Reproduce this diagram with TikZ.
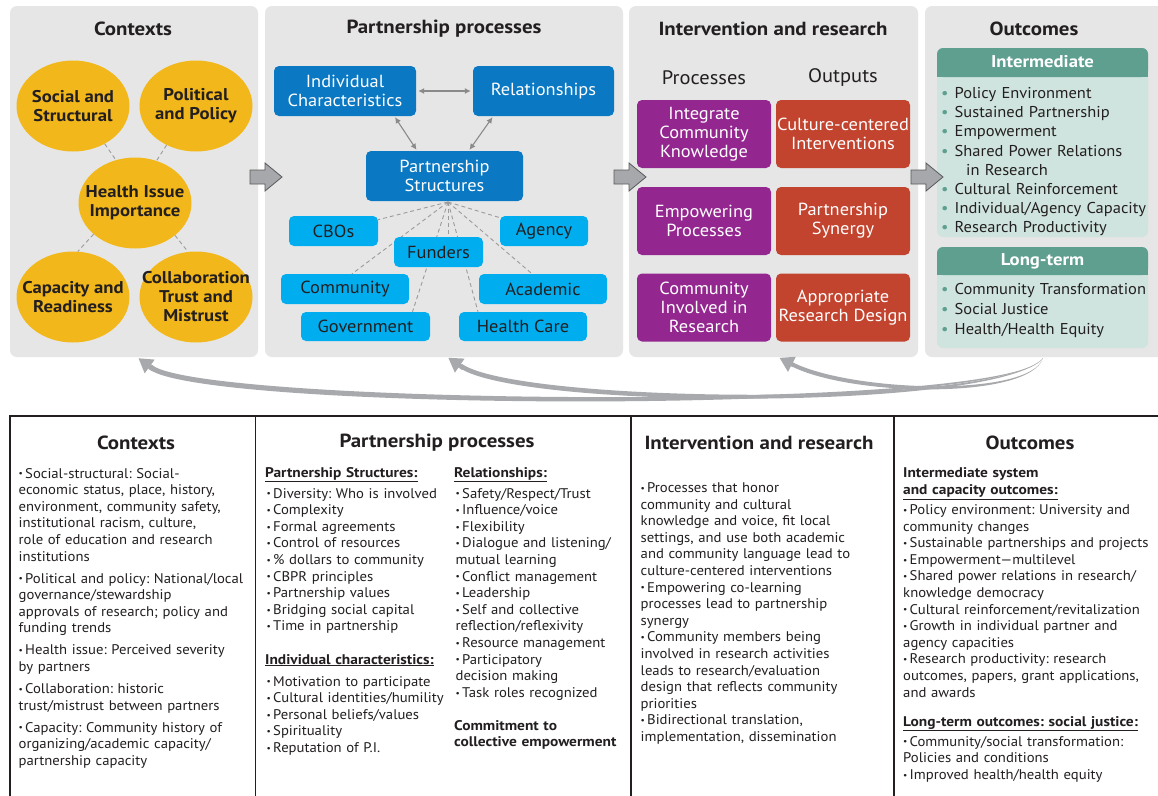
\documentclass[tikz,border=0pt]{standalone}
\usepackage{fontspec}
\setmainfont{PT Sans}[FakeStretch=1.05, BoldFeatures={FakeStretch=1.1}]
\usetikzlibrary{shapes.geometric,arrows.meta,calc}
\pgfdeclarelayer{back}
\pgfdeclarelayer{mid}
\pgfsetlayers{back,mid,main}
\definecolor{panelc}{HTML}{E6E6E6}
\definecolor{gold}{HTML}{F2B71A}
\definecolor{dblue}{HTML}{0A78C2}
\definecolor{lblue}{HTML}{00AEEF}
\definecolor{purp}{HTML}{93278F}
\definecolor{rust}{HTML}{C2432E}
\definecolor{tealh}{HTML}{5E9F90}
\definecolor{tealb}{HTML}{CFE4DE}
\definecolor{txt}{HTML}{231F20}
\definecolor{agrey}{HTML}{A6A8AB}
\definecolor{aline}{HTML}{58595B}
\definecolor{fbgrey}{HTML}{A7A9AC}
\definecolor{dashc}{HTML}{9B9B9B}
\definecolor{bidirc}{HTML}{8A8A8A}
\newcommand\bdot{\raisebox{1.2pt}{\fontsize{9}{9}\selectfont\textbullet}}
\newcommand\bitem[1]{\noindent\hangindent=6.5pt\hangafter=1\makebox[6.5pt][l]{\bdot}#1\par}
\newcommand\bgap{\vspace{5.4pt}}
\newcommand\obul{\makebox[13.5pt][l]{\textcolor{tealh}{\textbullet}}}
\tikzset{
  ptitle/.style={font=\fontsize{19}{22}\selectfont\bfseries, text=txt, inner sep=0},
  ell/.style={ellipse, fill=gold, minimum width=113, minimum height=91, inner sep=0},
  elltext/.style={align=center, text=txt, inner sep=0, font=\fontsize{17}{19}\selectfont\bfseries},
  dbox/.style={rectangle, rounded corners=5pt, fill=dblue, text=white, align=center, font=\fontsize{17.5}{19}\selectfont, inner sep=0, minimum height=50},
  lbox/.style={rectangle, rounded corners=5pt, fill=lblue, text=txt, align=center, font=\fontsize{17.5}{19}\selectfont, minimum height=30, inner sep=0},
  pbox/.style={rectangle, rounded corners=5pt, fill=purp, text=white, align=center, font=\fontsize{17.5}{19}\selectfont, minimum width=134, minimum height=68, inner sep=0},
  rbox/.style={pbox, fill=rust},
  dashln/.style={draw=dashc, dash pattern=on 4pt off 3pt, line width=0.9pt},
  bidir/.style={draw=bidirc, line width=1.1pt, {Latex[length=6pt,width=6pt]}-{Latex[length=6pt,width=6pt]}},
  blk/.style={fill=agrey, draw=aline, line width=0.8pt},
  fbody/.style={fill=fbgrey},
  fhead/.style={draw=fbgrey, line width=5pt, -{Triangle[length=14pt,width=16pt]}},
  subhead/.style={font=\fontsize{19.5}{22}\selectfont, text=txt, inner sep=0},
  ohead/.style={font=\fontsize{17}{20}\selectfont\bfseries, text=white, inner sep=0},
  olist/.style={font=\fontsize{15.7}{19.2}\selectfont, text=txt, inner sep=0, anchor=base west, text width=230},
  coltext/.style={font=\fontsize{14}{16.6}\selectfont\frenchspacing, text=txt, inner sep=0, anchor=base west, text width=330},
  colhead/.style={coltext, font=\fontsize{14}{16.6}\selectfont\bfseries\frenchspacing},
  blockarrow/.pic={\path[blk] (-16,-7) -- (-1,-7) -- (-1,-14) -- (16,0) -- (-1,14) -- (-1,7) -- (-16,7) -- cycle;}
}
\begin{document}
\begin{tikzpicture}[x=1pt,y=-1pt]
\useasboundingbox (0,0) rectangle (1158,795);
\begin{pgfonlayer}{back}
\fill[white] (0,0) rectangle (1158,795);
\fill[panelc, rounded corners=7pt] (10,6) rectangle (258,357);
\fill[panelc, rounded corners=7pt] (265,6) rectangle (623,357);
\fill[panelc, rounded corners=7pt] (629,6) rectangle (918,357);
\fill[panelc, rounded corners=7pt] (925,6) rectangle (1164,357);
\end{pgfonlayer}

% titles
\node[ptitle] (t1) at (133,29) {Contexts};
\node[ptitle] (t2) at (444,29) {Partnership processes};
\node[ptitle] (t3) at (773,29) {Intervention and research};
\node[ptitle] (t4) at (1034,29) {Outcomes};

% contexts
\node[ell] (ss) at (73,106) {};
\node[ell] (pp) at (196,106) {};
\node[ell] (hi) at (135,203) {};
\node[ell] (cr) at (73,297) {};
\node[ell] (ct) at (196,297) {};
\node[elltext] (sst) at (ss) {Social and\\Structural};
\node[elltext] (ppt) at (pp) {Political\\and Policy};
\node[elltext] (hit) at (hi) {Health Issue\\Importance};
\node[elltext] (crt) at (cr) {Capacity and\\Readiness};
\node[elltext] (ctt) at (ct) {Collaboration\\Trust and\\Mistrust};
\draw[dashln] (ss.310) -- (hi.114);
\draw[dashln] (pp.233) -- (hi.63);
\draw[dashln] (hi.217) -- (cr.84);
\draw[dashln] (hi.321) -- (ct.100);

% partnership processes
\node[dbox, minimum width=142] (ic) at (345,91) {Individual\\Characteristics};
\node[dbox, minimum width=141] (rel) at (543.5,91) {Relationships};
\node[dbox, minimum width=157] (ps) at (444.5,176) {Partnership\\Structures};
\node[lbox, minimum width=89] (cbo) at (333.5,231) {CBOs};
\node[lbox, minimum width=88] (agency) at (544,231) {Agency};
\node[lbox, minimum width=128] (community) at (345,289) {Community};
\node[lbox, minimum width=128] (academic) at (543,289) {Academic};
\node[lbox, minimum width=129, minimum height=29] (government) at (365.5,326.5) {Government};
\node[lbox, minimum width=128, minimum height=29] (healthcare) at (523,326.5) {Health Care};
\coordinate (fan) at (448,202);
\begin{pgfonlayer}{mid}
\draw[dashln] (fan) -- (cbo);
\draw[dashln] (fan) -- (agency);
\draw[dashln] (fan) -- ([xshift=7pt]community.north);
\draw[dashln] (fan) -- ([xshift=-11pt]academic.north);
\draw[dashln] (fan) -- ([xshift=47pt]government.north);
\draw[dashln] (fan) -- ([xshift=-45pt]healthcare.north);
\draw[dashln] (fan) -- ++(0,40);
\end{pgfonlayer}
\node[lbox, minimum width=89] (funders) at (438.5,252) {Funders};
\draw[bidir] ([xshift=2pt]ic.east) -- ([xshift=-2pt]rel.west);
\draw[bidir] ([xshift=50pt,yshift=-1pt]ic.south) -- ([xshift=-28pt,yshift=1pt]ps.north);
\draw[bidir] ([xshift=-51pt,yshift=-1pt]rel.south) -- ([xshift=25pt,yshift=1pt]ps.north);

% intervention and research
\node[subhead] (proc) at (704,78) {Processes};
\node[subhead] (outp) at (843,78) {Outputs};
\node[pbox] (ick) at (704,134) {Integrate\\Community\\Knowledge};
\node[pbox] (ep) at (704,221) {Empowering\\Processes};
\node[pbox] (cir) at (704,307.5) {Community\\Involved in\\Research};
\node[rbox] (cci) at (843,134) {Culture-centered\\Interventions};
\node[rbox] (syn) at (843,221) {Partnership\\Synergy};
\node[rbox] (ard) at (843,307.5) {Appropriate\\Research Design};

% outcomes
\fill[tealb, rounded corners=6pt] (937,48) rectangle (1148,237);
\fill[tealh, rounded corners=6pt] (937,48) rectangle (1148,77);
\fill[tealh] (937,66) rectangle (1148,77);
\fill[tealb, rounded corners=6pt] (937,247) rectangle (1148,348);
\fill[tealh, rounded corners=6pt] (937,247) rectangle (1148,275);
\fill[tealh] (937,265) rectangle (1148,275);
\node[ohead] (inter) at (1042.5,62) {Intermediate};
\node[ohead] (longt) at (1042.5,261) {Long-term};
\node[olist] (ilist) at (941,98.5) {\obul Policy Environment\\\obul Sustained Partnership\\\obul Empowerment\\\obul Shared Power Relations\\\hspace*{25pt}in Research\\\obul Cultural Reinforcement\\\obul Individual/Agency Capacity\\\obul Research Productivity};
\node[olist, font=\fontsize{15.7}{19.8}\selectfont] (llist) at (941,294.5) {\obul Community Transformation\\\obul Social Justice\\\obul Health/Health Equity};

% block arrows
\pic at (266,177) {blockarrow};
\pic at (630,177) {blockarrow};
\pic at (927,177) {blockarrow};

% feedback arrows
\coordinate (fbstart) at (1043,358);
\coordinate (e1) at (152,365);
\coordinate (e2) at (462,364);
\coordinate (e3) at (792,362);
\fill[fbody] (fbstart) .. controls (1010,413) and (200,405) .. (e1) -- (149.05,369.04) .. controls (200,412) and (1010,416) .. (fbstart) -- cycle;
\draw[fhead] (152.9,368.8) -- (138.4,358.2);
\fill[fbody] (fbstart) .. controls (1000,408) and (520,404) .. (e2) -- (459.5,367.8) .. controls (520,410) and (1000,411) .. (fbstart) -- cycle;
\draw[fhead, line width=4.5pt] (463.3,368.1) -- (448.2,357.7);
\fill[fbody] (fbstart) .. controls (1030,398) and (850,392) .. (e3) -- (790.2,365.6) .. controls (850,397) and (1030,400) .. (fbstart) -- cycle;
\draw[fhead, line width=4pt] (793.8,365.3) -- (779.5,357.8);

% table
\draw[txt, line width=1.1pt] (10,800) -- (10,416) -- (1160,416);
\draw[txt, line width=1.1pt] (255.5,416) -- (255.5,800);
\draw[txt, line width=1.1pt] (631,416) -- (631,800);
\draw[txt, line width=1.1pt] (894,416) -- (894,800);
\node[ptitle] (b1) at (136,443) {Contexts};
\node[ptitle] (b2) at (437,443) {Partnership processes};
\node[ptitle] (b3) at (759,443) {Intervention and research};
\node[ptitle] (b4) at (1030,443) {Outcomes};

\node[coltext] (ctxt) at (18.5,478) {%
\bitem{Social-structural: Social-\\economic status, place, history,\\environment, community safety,\\institutional racism, culture,\\role of education and research\\institutions}\bgap
\bitem{Political and policy: National/local\\governance/stewardship\\approvals of research; policy and\\funding trends}\bgap
\bitem{Health issue: Perceived severity\\by partners}\bgap
\bitem{Collaboration: historic\\trust/mistrust between partners}\bgap
\bitem{Capacity: Community history of\\organizing/academic capacity/\\partnership capacity}};

\node[colhead] (psh) at (265,477) {\underline{Partnership Structures:}};
\node[coltext] (psl) at (266.5,498) {%
\bitem{Diversity: Who is involved}
\bitem{Complexity}
\bitem{Formal agreements}
\bitem{Control of resources}
\bitem{\% dollars to community}
\bitem{CBPR principles}
\bitem{Partnership values}
\bitem{Bridging social capital}
\bitem{Time in partnership}};
\node[colhead] (ich) at (265,664) {\underline{Individual characteristics:}};
\node[coltext] (icl) at (266.5,686) {%
\bitem{Motivation to participate}
\bitem{Cultural identities/humility}
\bitem{Personal beliefs/values}
\bitem{Spirituality}
\bitem{Reputation of P.I.}};
\node[colhead] (relh) at (454,477) {\underline{Relationships:}};
\node[coltext] (rell) at (455.5,498) {%
\bitem{Safety/Respect/Trust}
\bitem{Influence/voice}
\bitem{Flexibility}
\bitem{Dialogue and listening/\\mutual learning}
\bitem{Conflict management}
\bitem{Leadership}
\bitem{Self and collective\\reflection/reflexivity}
\bitem{Resource management}
\bitem{Participatory\\decision making}
\bitem{Task roles recognized}};
\node[colhead] (comm) at (454,730) {Commitment to\\collective empowerment};

\node[coltext] (irl) at (640.5,492.5) {%
\bitem{Processes that honor\\community and cultural\\knowledge and voice, fit local\\settings, and use both academic\\and community language lead to\\culture-centered interventions}
\bitem{Empowering co-learning\\processes lead to partnership\\synergy}
\bitem{Community members being\\involved in research activities\\leads to research/evaluation\\design that reflects community\\priorities}
\bitem{Bidirectional translation,\\implementation, dissemination}};

\node[colhead, font=\fontsize{14}{17.5}\selectfont\bfseries] (oh1) at (903,477) {Intermediate system\\\underline{and capacity outcomes:}};
\node[coltext] (ol1) at (903,514.5) {%
\bitem{Policy environment: University and\\community changes}
\bitem{Sustainable partnerships and projects}
\bitem{Empowerment—multilevel}
\bitem{Shared power relations in research/\\knowledge democracy}
\bitem{Cultural reinforcement/revitalization}
\bitem{Growth in individual partner and\\agency capacities}
\bitem{Research productivity: research\\outcomes, papers, grant applications,\\and awards}};
\node[colhead] (oh2) at (903,726) {\underline{Long-term outcomes: social justice:}};
\node[coltext] (ol2) at (903,746) {%
\bitem{Community/social transformation:\\Policies and conditions}
\bitem{Improved health/health equity}};
\end{tikzpicture}
\end{document}
